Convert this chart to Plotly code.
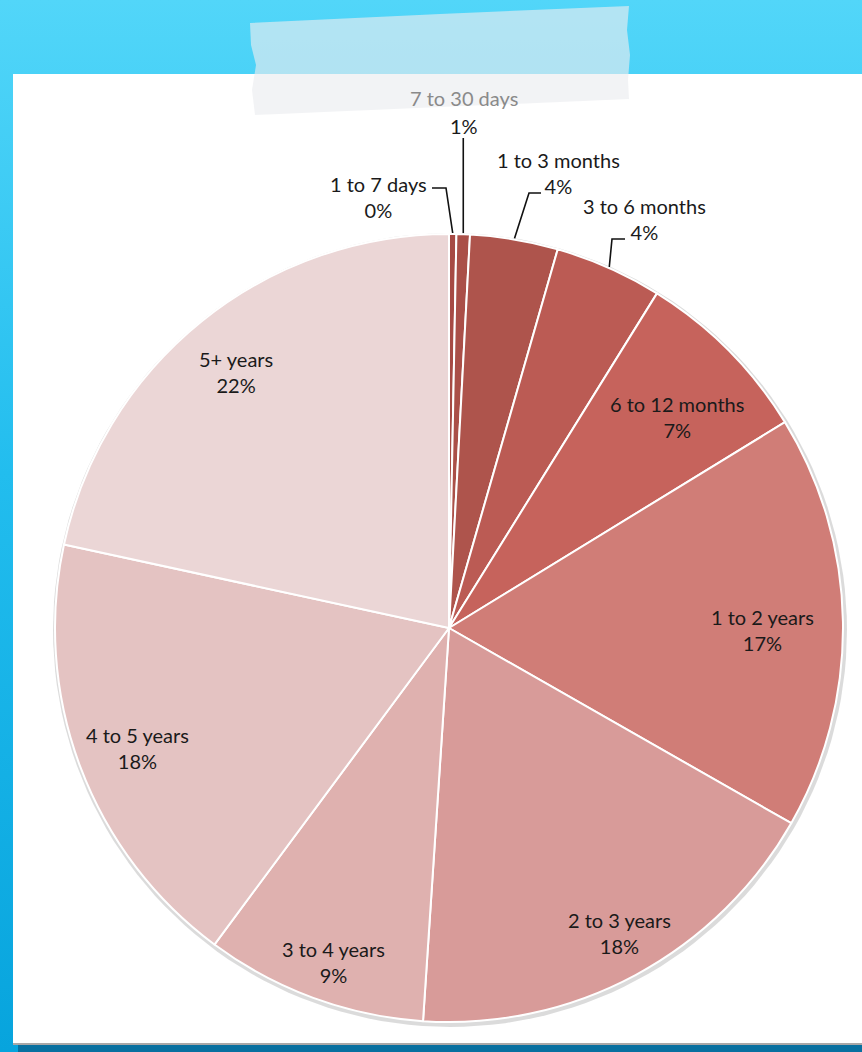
import math
import plotly.graph_objects as go

# Data: share of items by age bucket (percent)
labels = ["1 to 7 days", "7 to 30 days", "1 to 3 months", "3 to 6 months", "6 to 12 months",
          "1 to 2 years", "2 to 3 years", "3 to 4 years", "4 to 5 years", "5+ years"]
shares = [0.3, 0.55, 3.6, 4.4, 7.4, 17.0, 17.8, 9.1, 18.25, 21.6]
colors = ["#a64a44", "#aa4f48", "#ae544c", "#bb5b54", "#c6635c",
          "#d07d77", "#d89b99", "#dfb1af", "#e4c3c2", "#ebd6d6"]

W, H = 862, 1052
CX, CY, R = 449, 628, 394
FONT = dict(family="Lato, Open Sans, sans-serif", size=20, color="#1a1a1a")

# inside labels: radial position (fraction of radius) + small pixel nudge
inside_r = {"6 to 12 months": (0.79, 7, 8), "1 to 2 years": (0.80, -2, 7), "2 to 3 years": (0.89, 4, -4),
            "3 to 4 years": (0.89, 5, 5), "4 to 5 years": (0.85, 2, 2), "5+ years": (0.84, -5, 2)}
# text box centre + leader elbow for the small slices (pixels)
outside = {
    "1 to 7 days": dict(text=(378, 197), path=[(432, 188), (446, 188)]),
    "7 to 30 days": dict(text=None, path=None),
    "1 to 3 months": dict(text=(558, 173), path=[(541, 193), (529, 193)]),
    "3 to 6 months": dict(text=(644, 219), path=[(625, 239), (612, 239)]),
}

total = sum(shares)
pcts = [v / total * 100 for v in shares]
mids = []
acc = 0.0
for p in pcts:
    mids.append(math.radians((acc + p / 2) * 3.6))
    acc += p


def polar(a, r):
    return CX + r * math.sin(a), CY - r * math.cos(a)


fig = go.Figure()
nohover = dict(hoverinfo="skip", showlegend=False, mode="lines")

# page background, card, tape
fig.add_trace(go.Scatter(x=[0, W, W, 0, 0], y=[0, 0, H, H, 0], fill="toself", line=dict(width=0),
                         fillgradient=dict(type="vertical",
                                           colorscale=[[0, "#07a4dd"], [0.55, "#22bdee"], [1, "#52d6f9"]]),
                         **nohover))
fig.add_trace(go.Scatter(x=[18, W, W, 18, 18], y=[1043, 1043, H, H, 1043], fill="toself",
                         fillcolor="rgba(10,70,110,0.55)", line=dict(width=0), **nohover))
fig.add_trace(go.Scatter(x=[13, W, W, 13, 13], y=[74, 74, 1045, 1045, 74], fill="toself",
                         fillcolor="#a8a8a8", line=dict(width=0), **nohover))
fig.add_trace(go.Scatter(x=[13, W, W, 13, 13], y=[74, 74, 1043, 1043, 74], fill="toself",
                         fillcolor="#ffffff", line=dict(width=0), **nohover))
tape_x = [250, 440, 629, 627, 630, 628, 629, 440, 255, 252, 256, 251, 250]
tape_y = [23, 14, 6, 30, 55, 80, 99, 107, 115, 90, 65, 45, 23]
fig.add_trace(go.Scatter(x=tape_x, y=tape_y, fill="toself", fillcolor="rgba(234,237,239,0.64)",
                         line=dict(width=0), **nohover))

# soft shadow round the pie
ring = [math.radians(d) for d in range(0, 361, 2)]
fig.add_trace(go.Scatter(x=[CX + 1 + (R + 3) * math.sin(a) for a in ring],
                         y=[CY + 2 - (R + 3) * math.cos(a) for a in ring],
                         fill="toself", fillcolor="rgba(0,0,0,0.14)", line=dict(width=0), **nohover))

# leader lines for the small slices
for lab in outside:
    i = labels.index(lab)
    ax_, ay_ = polar(mids[i], R + 1)
    spec = outside[lab]
    if spec["path"] is None:
        pts = [(ax_, 138), (ax_, ay_)]
    else:
        pts = spec["path"] + [(ax_, ay_)]
    fig.add_trace(go.Scatter(x=[p[0] for p in pts], y=[p[1] for p in pts],
                             line=dict(color="#111111", width=1.6), **nohover))

fig.add_trace(go.Pie(
    labels=labels, values=shares, sort=False, direction="clockwise", rotation=0,
    marker=dict(colors=colors, line=dict(color="#ffffff", width=2)),
    textinfo="none", hoverinfo="label+percent", showlegend=False,
    domain=dict(x=[(CX - R) / W, (CX + R) / W], y=[(H - CY - R) / H, (H - CY + R) / H]),
))

for i, lab in enumerate(labels):
    pct = f"{pcts[i]:.0f}%"
    if lab in inside_r:
        frac, dx, dy = inside_r[lab]
        x, y = polar(mids[i], frac * R)
        fig.add_annotation(x=x + dx, y=y + dy, text=f"{lab}<br>{pct}", showarrow=False, font=FONT)
    elif lab == "7 to 30 days":
        ax_, _ = polar(mids[i], R)
        fig.add_annotation(x=ax_ + 1, y=98, text=lab, showarrow=False,
                           font=dict(FONT, color="#8a8a8a"))
        fig.add_annotation(x=ax_ + 1, y=126, text=pct, showarrow=False, font=FONT)
    else:
        tx, ty = outside[lab]["text"]
        fig.add_annotation(x=tx, y=ty, text=f"{lab}<br>{pct}", showarrow=False, font=FONT)

fig.update_layout(
    width=W, height=H,
    margin=dict(l=0, r=0, t=0, b=0),
    paper_bgcolor="#1cb9ec", plot_bgcolor="rgba(0,0,0,0)",
    xaxis=dict(range=[0, W], visible=False, fixedrange=True),
    yaxis=dict(range=[H, 0], visible=False, fixedrange=True),
    showlegend=False,
)

fig.write_html("out.html", config={"displayModeBar": False},
               post_script="document.body.style.margin='0px';")
